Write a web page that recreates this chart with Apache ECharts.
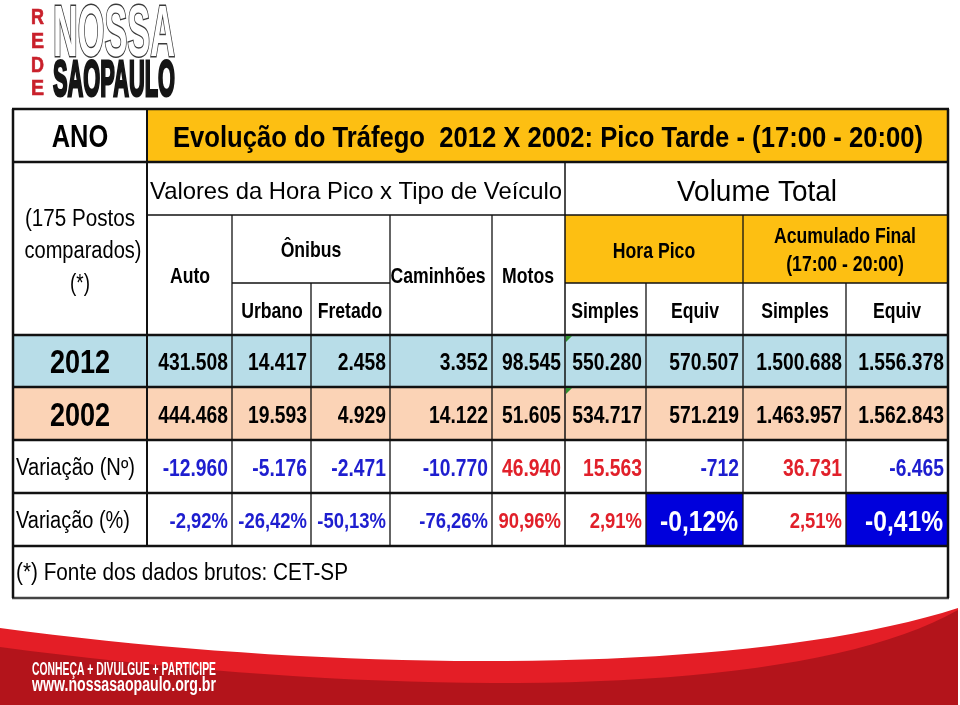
<!DOCTYPE html>
<html>
<head>
<meta charset="utf-8">
<script src="https://cdn.jsdelivr.net/npm/echarts@6/dist/echarts.min.js"></script>
<style>
  html, body { margin: 0; padding: 0; background: #fff; }
  #chart { width: 960px; height: 705px; }
</style>
</head>
<body>
<div id="chart"></div>
<script>
// dados da tabela
const columnKeys = ['Auto', 'Urbano', 'Fretado', 'Caminhões', 'Motos', 'HP Simples', 'HP Equiv', 'AF Simples', 'AF Equiv'];
const rowLabels = ['2012', '2002', 'Variação (Nº)', 'Variação (%)'];
const values2012 = [431508, 14417, 2458, 3352, 98545, 550280, 570507, 1500688, 1556378];
const values2002 = [444468, 19593, 4929, 14122, 51605, 534717, 571219, 1463957, 1562843];
const variacaoNum = [-12960, -5176, -2471, -10770, 46940, 15563, -712, 36731, -6465];
const variacaoPct = [-2.92, -26.42, -50.13, -76.26, 90.96, 2.91, -0.12, 2.51, -0.41];
const destaquePct = [6, 8]; // colunas Equiv em destaque

// layout (pixels)
const FONT = "'Liberation Sans', Arial, sans-serif";
const NARROW = 0.82; // Arial Narrow ~ Arial comprimida
const X = [13, 147, 232, 311, 390, 492, 565, 646, 743, 846, 948];
const Y = [109, 162, 215, 283, 335, 387, 440, 493, 546, 598];

const ORANGE = '#fdbf12';
const BLUE_ROW = '#b8dde8';
const PEACH_ROW = '#fbd3b6';
const NEG = '#1e1ecf';
const POS = '#e1202a';
const HIGHLIGHT = '#0000dc';

const ctx = document.createElement('canvas').getContext('2d');
function measure(str, size, weight) {
  ctx.font = weight + ' ' + size + 'px ' + FONT;
  return ctx.measureText(str).width;
}

// texto; se w for dado, ajusta a largura
function txt(str, x, y, size, opts) {
  opts = opts || {};
  const weight = opts.bold ? 'bold' : 'normal';
  let sx = NARROW;
  if (opts.w) sx = opts.w / measure(str, size, weight);
  return {
    type: 'text', x: x, y: y + size * 0.09, scaleX: sx, z: 10,
    style: {
      text: str, x: 0, y: 0, fontSize: size, fontFamily: FONT, fontWeight: weight,
      fill: opts.color || '#000',
      align: opts.align || 'center', verticalAlign: 'middle'
    }
  };
}

// texto encaixado numa caixa (logo / rodape)
function fitBox(str, left, top, w, h, opts) {
  const F = 100;
  const weight = opts.bold ? 'bold' : 'normal';
  const m = measure(str, F, weight);
  const el = {
    type: 'text', x: left, y: top + h / 2 + h * 0.08, scaleX: w / m, scaleY: h / (0.725 * F), z: 10,
    style: {
      text: str, x: 0, y: 0, fontSize: F, fontFamily: FONT, fontWeight: weight,
      fill: opts.color || '#000',
      align: 'left', verticalAlign: 'middle'
    }
  };
  if (opts.stroke) { el.style.stroke = opts.stroke; el.style.lineWidth = opts.lineWidth; }
  return el;
}

function rect(x1, y1, x2, y2, fill) {
  return { type: 'rect', z: 1, shape: { x: x1, y: y1, width: x2 - x1, height: y2 - y1 }, style: { fill: fill } };
}
function hline(y, x1, x2, w, c) {
  return { type: 'line', z: 5, shape: { x1: x1, y1: y, x2: x2, y2: y }, style: { stroke: c || '#111', lineWidth: w } };
}
function vline(x, y1, y2, w) {
  return { type: 'line', z: 5, shape: { x1: x, y1: y1, x2: x, y2: y2 }, style: { stroke: '#111', lineWidth: w } };
}

function fmtInt(v) {
  const s = Math.abs(v).toString().replace(/\B(?=(\d{3})+(?!\d))/g, '.');
  return (v < 0 ? '-' : '') + s;
}
function fmtPct(v) {
  return (v < 0 ? '-' : '') + Math.abs(v).toFixed(2).replace('.', ',') + '%';
}

// curva de Bezier amostrada para a faixa do rodape
function bezierBand(p0, p1, p2, p3, bottom) {
  const pts = [];
  for (let i = 0; i <= 40; i++) {
    const t = i / 40, u = 1 - t;
    pts.push([
      u * u * u * p0[0] + 3 * u * u * t * p1[0] + 3 * u * t * t * p2[0] + t * t * t * p3[0],
      u * u * u * p0[1] + 3 * u * u * t * p1[1] + 3 * u * t * t * p2[1] + t * t * t * p3[1]
    ]);
  }
  pts.push([p3[0], bottom], [p0[0], bottom]);
  return pts;
}

const els = [];

// fundos
els.push(rect(X[1], Y[0], X[10], Y[1], ORANGE));
els.push(rect(X[6], Y[2], X[10], Y[3], ORANGE));
els.push(rect(X[0], Y[4], X[10], Y[5], BLUE_ROW));
els.push(rect(X[0], Y[5], X[10], Y[6], PEACH_ROW));
destaquePct.forEach(function (c) {
  els.push(rect(X[c + 1], Y[7], X[c + 2], Y[8], HIGHLIGHT));
});

// linhas horizontais
els.push(hline(Y[0], X[0] - 1, X[10] + 1, 2.5));
els.push(hline(Y[1], X[0], X[10], 2.5));
els.push(hline(Y[2], X[1], X[10], 1.5));
els.push(hline(Y[3], X[2], X[4], 1.5));
els.push(hline(Y[3], X[6], X[10], 1.5));
for (let i = 4; i <= 8; i++) els.push(hline(Y[i], X[0], X[10], 2.5));
els.push(hline(Y[9], X[0] - 1, X[10] + 1, 2.5, '#444'));

// linhas verticais
els.push(vline(X[0], Y[0], Y[9], 2.5));
els.push(vline(X[10], Y[0], Y[9], 2.5));
els.push(vline(X[1], Y[0], Y[8], 2));
els.push(vline(X[2], Y[2], Y[8], 1.3));
els.push(vline(X[3], Y[3], Y[8], 1.3));
els.push(vline(X[4], Y[2], Y[8], 1.3));
els.push(vline(X[5], Y[2], Y[8], 1.3));
els.push(vline(X[6], Y[1], Y[8], 1.5));
els.push(vline(X[7], Y[3], Y[8], 1.3));
els.push(vline(X[8], Y[2], Y[8], 1.3));
els.push(vline(X[9], Y[3], Y[8], 1.3));

// marcadores verdes de comentario
[Y[4], Y[5]].forEach(function (y) {
  els.push({ type: 'polygon', z: 6, shape: { points: [[X[6] + 1, y + 1], [X[6] + 7, y + 1], [X[6] + 1, y + 7]] }, style: { fill: '#2f8f2f' } });
});

// cabecalho
const H = 21.5;
els.push(txt('ANO', 80, 136, 31, { bold: true }));
els.push(txt('Evolução do Tráfego  2012 X 2002: Pico Tarde - (17:00 - 20:00)', 548, 136, 29, { bold: true, w: 750 }));
els.push(txt('(175 Postos', 80, 218, 23, { w: 110 }));
els.push(txt('comparados)', 83, 250, 23, { w: 117 }));
els.push(txt('(*)', 80, 283, 23));
els.push(txt('Valores da Hora Pico x Tipo de Veículo', 150, 190, 24, { align: 'left', w: 412 }));
els.push(txt('Volume Total', 757, 190, 29, { w: 160 }));
els.push(txt('Auto', 190, 275, H, { bold: true }));
els.push(txt('Ônibus', 311, 249, H, { bold: true }));
els.push(txt('Urbano', 272, 310, H, { bold: true }));
els.push(txt('Fretado', 350, 310, H, { bold: true }));
els.push(txt('Caminhões', 438, 275, H, { bold: true }));
els.push(txt('Motos', 528, 275, H, { bold: true }));
els.push(txt('Hora Pico', 654, 250, H, { bold: true }));
els.push(txt('Acumulado Final', 845, 235, H, { bold: true }));
els.push(txt('(17:00 - 20:00)', 845, 263, H, { bold: true }));
els.push(txt('Simples', 605, 310, H, { bold: true }));
els.push(txt('Equiv', 695, 310, H, { bold: true }));
els.push(txt('Simples', 795, 310, H, { bold: true }));
els.push(txt('Equiv', 897, 310, H, { bold: true }));

// linhas de dados
const rowCenters = [361, 414, 467, 520];
els.push(txt(rowLabels[0], 80, rowCenters[0], 33, { bold: true }));
els.push(txt(rowLabels[1], 80, rowCenters[1], 33, { bold: true }));
els.push(txt(rowLabels[2], 16, rowCenters[2], 23, { align: 'left', w: 119 }));
els.push(txt(rowLabels[3], 16, rowCenters[3], 23, { align: 'left', w: 114 }));

columnKeys.forEach(function (k, c) {
  const right = X[c + 2] - 4;
  els.push(txt(fmtInt(values2012[c]), right, rowCenters[0], 23.5, { bold: true, align: 'right' }));
  els.push(txt(fmtInt(values2002[c]), right, rowCenters[1], 23.5, { bold: true, align: 'right' }));
  const vn = variacaoNum[c];
  els.push(txt(fmtInt(vn), right, rowCenters[2], 23.5, { bold: true, align: 'right', color: vn < 0 ? NEG : POS }));
  const vp = variacaoPct[c];
  if (destaquePct.indexOf(c) >= 0) {
    els.push(txt(fmtPct(vp), X[c + 2] - 5, rowCenters[3], 30, { bold: true, align: 'right', color: '#fff' }));
  } else {
    els.push(txt(fmtPct(vp), right, rowCenters[3], 22.5, { bold: true, align: 'right', color: vp < 0 ? NEG : POS }));
  }
});

els.push(txt('(*) Fonte dos dados brutos: CET-SP', 16, 572, 23, { align: 'left', w: 332 }));

// logo
['R', 'E', 'D', 'E'].forEach(function (l, i) {
  const tops = [9, 33, 57, 80];
  els.push(fitBox(l, 31, tops[i], 13, 16, { bold: true, color: '#c9202b', stroke: '#c9202b', lineWidth: 3 }));
});
els.push(fitBox('NOSSA', 53, 6, 122, 52, { bold: true, color: '#fff', stroke: '#3a3a3a', lineWidth: 4 }));
els.push(fitBox('SAOPAULO', 53, 61, 122, 36, { bold: true, color: '#151515', stroke: '#151515', lineWidth: 6 }));

// faixa vermelha do rodape
els.push({ type: 'polygon', z: 2, shape: { points: bezierBand([0, 628], [350, 675], [750, 675], [958, 608], 705) }, style: { fill: '#e41e26' } });
els.push({ type: 'polygon', z: 3, shape: { points: bezierBand([0, 647], [400, 700], [800, 700], [958, 610], 705) }, style: { fill: '#b3141b' } });
els.push(fitBox('CONHEÇA + DIVULGUE + PARTICIPE', 32, 663, 184, 13, { bold: true, color: '#fff' }));
els.push(fitBox('www.nossasaopaulo.org.br', 32, 678, 184, 14, { bold: true, color: '#fff' }));

const chart = echarts.init(document.getElementById('chart'), null, { renderer: 'canvas' });
chart.setOption({
  backgroundColor: '#fff',
  animation: false,
  graphic: { elements: els }
});
</script>
</body>
</html>
